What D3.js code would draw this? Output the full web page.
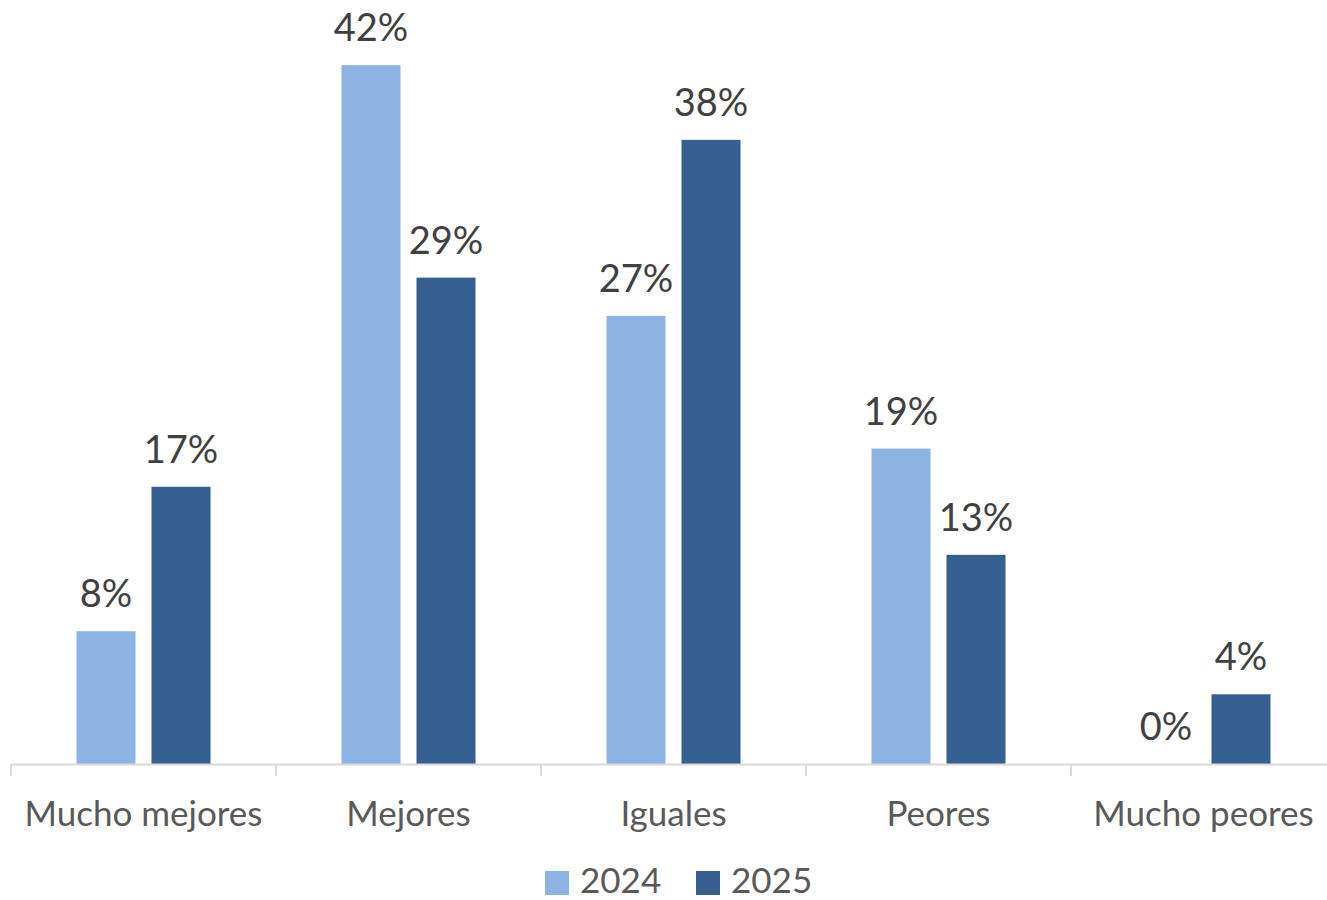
<!DOCTYPE html>
<html><head><meta charset="utf-8">
<script src="https://cdn.jsdelivr.net/npm/d3@7"></script>
<style>body{margin:0;background:#fff}svg{display:block}text{font-family:Lato,"Open Sans",sans-serif}</style>
</head><body>
<svg id="c" width="1327" height="900"></svg>
<script>
const categories = ["Mucho mejores","Mejores","Iguales","Peores","Mucho peores"];
const series = ["2024","2025"];
const values2024 = [8.0, 42.1, 27.0, 19.0, 0];
const values2025 = [16.7, 29.3, 37.6, 12.6, 4.2];
const colors = ["#8DB3E2","#355F8F"];

const svg = d3.select("#c");
const base = 764;
const x0 = d3.scaleBand().domain(categories).range([11, 1336]).padding(0);
const y = d3.scaleLinear().domain([0, 45]).range([base, base - 45*16.6]);
const groupW = 134;
const x1 = d3.scaleBand().domain(series).range([0, groupW]).paddingInner(0.2133).paddingOuter(0);

const data = categories.map((c,i)=>({c, vals:[values2024[i], values2025[i]]}));

const g = svg.selectAll("g.cat").data(data).join("g")
  .attr("transform", d => `translate(${x0(d.c) + x0.bandwidth()/2 - groupW/2},0)`);
g.selectAll("rect").data(d => d.vals.map((v,j)=>({v, s:series[j], j}))).join("rect")
  .attr("x", d => x1(d.s)).attr("width", x1.bandwidth())
  .attr("y", d => y(d.v)).attr("height", d => base - y(d.v))
  .attr("fill", d => colors[d.j]);
g.selectAll("text.lbl").data(d => d.vals.map((v,j)=>({v, s:series[j]}))).join("text")
  .attr("class","lbl")
  .attr("x", d => x1(d.s) + x1.bandwidth()/2)
  .attr("y", d => y(d.v) - 24)
  .attr("text-anchor","middle").attr("font-size", 38).attr("fill","#404040")
  .text(d => Math.round(d.v) + "%");

// axis
const axisG = svg.append("g");
axisG.append("line").attr("x1", 11).attr("x2", 1327).attr("y1", base+0.5).attr("y2", base+0.5)
  .attr("stroke","#D9D9D9").attr("stroke-width",2);
axisG.selectAll("line.tick").data(categories).join("line").attr("class","tick")
  .attr("x1", d => x0(d)).attr("x2", d => x0(d)).attr("y1", base).attr("y2", base+12)
  .attr("stroke","#D9D9D9").attr("stroke-width",2);
axisG.selectAll("text").data(categories).join("text")
  .attr("x", d => x0(d) + x0.bandwidth()/2).attr("y", 826)
  .attr("text-anchor","middle").attr("font-size", 35).attr("fill","#595959")
  .text(d => d);

// legend
const leg = svg.append("g");
const legX = [545, 696];
series.forEach((s,j)=>{
  leg.append("rect").attr("x", legX[j]).attr("y", 871).attr("width", 24).attr("height", 24).attr("fill", colors[j]);
  leg.append("text").attr("x", legX[j] + 35).attr("y", 893).attr("font-size", 35).attr("fill","#595959").text(s);
});
</script>
</body></html>
